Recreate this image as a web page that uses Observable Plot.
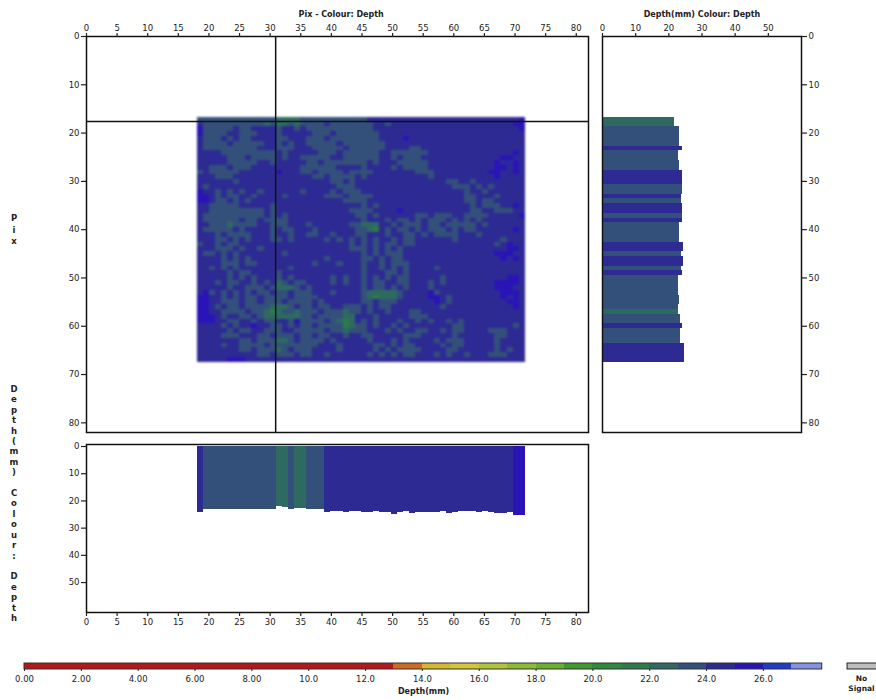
<!DOCTYPE html>
<html><head><meta charset="utf-8">
<script src="https://cdn.jsdelivr.net/npm/d3@7"></script>
<script src="https://cdn.jsdelivr.net/npm/@observablehq/plot@0.6"></script>
<style>
html,body{margin:0;padding:0;background:#fff}
#page{position:relative;width:876px;height:700px;overflow:hidden;font-family:"DejaVu Sans",sans-serif;color:#222}
#page svg{position:absolute;background:transparent;overflow:hidden}
.stack{position:absolute;width:28px;text-align:center;white-space:pre;font-size:8.5px;font-weight:600;color:#222}
.soft{filter:blur(.9px)}
.softer{filter:blur(.5px)}
</style></head><body><div id="page"></div>
<script>
// Depth class per pixel: a 25-26mm, b 24-25mm, c 23-24mm, d 22-23mm, e 21-22mm
const firstCol = 18, firstRow = 17;
const classDepth = {e:21.5, d:22.5, c:23.5, b:24.5, a:25.5};
const gridRows = [
"ccccccccc ccccddddc ccccccccc cbbbbbbbb bbbbbbbbb bbbbbbbba",
"bcccccccc ccdcddcdc cccbccccc ccbbcbbbb bbbbbbbbb bbbbbbbaa",
"acccccbcc bbbbcbbcb ccccccccc ccbbbbbbb bbbbbbbbb bbbbbbbba",
"accccbbcc cbbbcbbbb bcccbcccc cccbbbbbb bbbbbbbbb bbbbbbbbb",
"bcccbcbcc bbbbccbbb cccbccccc cccbbbbab bbbbbbbbb bbbbbbbbb",
"bccccbccc ccbbcbcbb cccccbccc ccccbbbbb bbbbbbbbb bbbbbbbbb",
"bcccccccc cbbbcccbb bcccccbcc ccccbbbbc cbbbbbbbb bbbbbbbbb",
"bbbbccccc ccccbcbbb bbcccbccc cccbbcccc ccbbbbbbb bbbbbbbab",
"bbbbbcccb ccccbcbbc ccccbbccc cccbbcbcc cbbbbbbbb bbbbbaabb",
"bbbbbcccc cbbcbbbbb ccbcccccc cbcbbbccc ccbbbbbbb bbbbabbab",
"bbcccbccc bbbbbbbbc cccccbbbb cbbbbcbcc ccbbbbbbb bbbbaabab",
"cbcccccbb bbbbabbbc cbccccbcc ccbbbbbbb cccbbbbbb bbbaabbab",
"bbbcccbbb bbbbbbbbb bccbccccb cbbbbbbbb bbcbbbbbb bbbbabbbb",
"bbbbbbcbb bbbbbbbbb bbbbccbcb bbbbbbbbb bbbbbccbb cbbbbbbbb",
"bcbbbbbbb bbbbbbbbb bbbbbcccb bbbbbbbbb bbbbbbccc bcbcbbbbb",
"abbcbcbcb bcbbbbbbc bbbbcbccc bbbbbbbbb bbbbbbbbc bbcbbbbbb",
"aabcbccbb cbbbbcbbb bbbcccbcc ccbbbbbbb bbbbbbbbc cbbbcbbbb",
"aabccbcbc bbbbbbbbb bbbbbbccc cbbbbbbbb bbbbbbbbc cbccbbbbb",
"bbcccccbb bbbcbbbbb bbbbbbbbb cbcbbbbbb bbbbbbbbb cbcccbbab",
"bbccccccc ccbcbbbbb bbbbbbbcc ccbbbbabb bbbbbbbbb ccbbcccbb",
"bcccccccc ccbcbcbbb bbbbbbbbc cbcbbbbbb ccbcccbbc cccbbbbba",
"bccccccbc cbccccbbb bbbbbbbbb cbbbcbccb cbcccbcbc bcbbbbbbb",
"bbcccdccc cbbcccbbb cbbbbbbcc dddbbcbcc cbccbcccc cbcbbbbbb",
"bcccccbcb bbbcbccbb bcbbbbbbc cdebcbccb cbcccbcbc cbbbbbbab",
"bbbcbcccc bbbcbbcbb ccbbcbbbc cbbbcbbcc bcbccccbb bcbbbbbbb",
"bbbccbcbc bbbccbcbb bbbcbcbcb cbcbbcbcc bbbbbbcbb bbbbbcbbb",
"cbbcbccbb bbbbbbbbb bbbbbbbcb cbcbccbcc bbbbbbbbb bbbbcbabb",
"bbbcccbcb bcbbbbbbb bbbbbbbcc cbcbcbcbb bbbbbbbbb bbbbbbaab",
"bccbcbcbb bbbbbcbbb bbbbbbbbb cbcbcccbb bbbbbbbbb bbbbaaabb",
"bbbbcbcbc bbbbbbbbb bbbcbbbbb ccbcbccbb bbbbbbbbb bbbbbabab",
"bbbbcccbc cbbbbbbbb bcbbbcbbb cbbcbcccb bbbbbbbbb bbbbbbbbb",
"bbcbcbcbb bbbbbbcbb bbbbbbbbb cbbcbcbcb bbbcbbbbb bbbbbbbbb",
"bbbbbcbcc bbbbcbbbb bbbbbbbbb cbbbccbcb bbbbbbbbb bbbbbbbbb",
"bbbbbcbcb cbbbcbcbb bbbbcbcbb cbcbcbccb bbbbcbbbb bbbbbbaab",
"bbbcbccbb cbcbdcbcc bbbbcbcbb cbccbbccb bbcbcbbbb bbbbaaaab",
"bbbbbcbbc ccbcdddcb cbbbbbbbb cbccbcbcb bbcbbbbbb bbbbaaabb",
"bacbcbcbc bccbccbcc cbbbcbbbb cdddddcbb bbacbbbbb bbbbbaaab",
"aabbcbcbc cbccccbcc ccbbbbbbb cdedddcbb bbaabcbbb bbbbbabab",
"aabbcccbc cbcccbccc cbcbbbbbb ccbcccbbb bbbabcbbb bbbbbbaab",
"aabcbccbc cccdddcbc cbccbbccc bcbccbbbb bbbbcbbbb bbbbbbbab",
"aabbccccb ccdedccdc ccbcccdcc bcbbcbbbc cbbbbbbbb bbbbbbbbb",
"aaabcbbcc bcddddddc cbccccddb bbcbbbbbc ccbbbbbbb bbbbbbbbb",
"aaabbccbb cbccbbcac cccbcdedb cbcbbbcbb cbcbbcbcb bbbbbbbbb",
"bbbbcbcbb abbccbcbc cbccccedc cbcbbcbcb bbbbbbccb bbbbbbbcb",
"bbbbbcbcc bbcccbbcc cccbccdcc cbbbcbcbb ccbbcbccb bbbcccbbb",
"bbbbcccbb bccbcccbc cbccbbcbb ccbbbbbcc cbbbbbcbb bbbbccbbb",
"bbbbbbbcc bcccddcbc cccbcbbbb bcbbbcbcb bbbcbcccb bbbbcbbbb",
"bbbbcbbcc ccbcccccc ccbbbcbbb bbccbcbcc bbbbcbccb bbbbcbbbb",
"bbbbbbbcc bcccdcbcc cbbbbcbbb bbcbcbccc cbbbbccbb bbbbcbcbb",
"bbbbbbbbb bccbcccbc cbbcbbbbb bcbcbcbcc bbbcbcbbc bbbcccbbb",
"bbbbbaaab bbbbbbbbb bbbbbbbbb bbbbbbbbb bbbbbbbbb bbbbbbbbb"
];
// Profile at the crosshair, by row (right panel)
const rowLength = [21.8,21.8,23.2,23.2,23.2,23.2,24,23,23,23.3,23.3,24.2,24.2,24.2,24,24,23.8,23.8,24.2,24.2,24,24,23.2,23.2,23.2,23.2,24.5,24.5,23.8,24.4,24.4,23.8,24,23,23,23,23,23.2,23.2,23,22.8,23.4,23.4,24,23.4,23.4,23.4,24.6,24.6,24.6,24.6];
const rowClassList = "dd cccc b cc cc bbb cc b c bb c b cccc bb c bb c b ccccccc d cc b ccc bbbb".replace(/ /g,"");
// Profile at the crosshair, by column (bottom panel)
const colLength = [24.2,23,23,23,23,23,23,23,23,23,23,23,23,22,22.4,23,22.8,22.8,23,23.2,23.2,24.4,23.9,23.9,24.4,23.9,23.9,24.2,24.4,23.9,24.2,24.4,25,24.4,23.9,24.75,24.4,24.4,24.4,24.1,24,24.75,24.2,24,24,24,24.4,24,24.4,24.75,24.75,24.4,25.5,25.5];
const colClassList = "b cccccccccccc dd c dd ccc bbbbbbbbbbbbbbbbbbbbbbbbbbbbbbb aa".replace(/ /g,"");

const crossX = 30.9, crossY = 17.6;
const mainXTicks = d3.range(0,85,5);
const mainYTicks = d3.range(0,90,10);
const sideXTicks = [0,10,20,30,40,50];
const bottomYTicks = [0,10,20,30,40,50];
const barTicks = d3.range(0,28,2);
const barTickLabels = ["0.00","2.00","4.00","6.00","8.00","10.0","12.0","14.0","16.0","18.0","20.0","22.0","24.0","26.0"];
const binEdges = [0,13,14,15,16,17,18,19,20,21,22,23,24,25,26,27,28.07];
const binColors = ["#b5161b","#cf6a20","#d8b52f","#d4c43a","#b0c43a","#8cbc34","#6ab030","#3f9a30","#2f8a3c","#2e7a4a","#2e6a60","#33507a","#2d2a94","#2a14b8","#1f3cc8","#8492e2"];
const colorOpt = {type:"threshold", domain:binEdges.slice(1,-1), range:binColors};

const page = document.getElementById("page");
const baseStyle = {fontFamily:"'DejaVu Sans',sans-serif", fontSize:"8.5px", color:"#222", background:"transparent"};
function place(chart,left,top){chart.style.left=left+"px";chart.style.top=top+"px";page.appendChild(chart);}
const lineW = 1.5, ink = "#111";
// cell edges slightly tighter than one unit as in the source picture
const cx = i => 18.08 + i*0.9925;
const cy = i => 16.75 + i*0.994;

const cells = [];
gridRows.forEach((r,j)=>{[...r.replace(/ /g,"")].forEach((k,i)=>{
  cells.push({col:firstCol+i,row:firstRow+j,x1:cx(i),x2:cx(i+1),y1:cy(j),y2:cy(j+1),v:classDepth[k]});
});});
const rowBars = rowLength.map((d,j)=>({len:d,y1:cy(j),y2:cy(j+1),v:classDepth[rowClassList[j]]}));
const colBars = colLength.map((d,i)=>({len:d,x1:cx(i),x2:cx(i+1),v:classDepth[colClassList[i]]}));

// Main panel
place(Plot.plot({
  width:596,height:438,style:baseStyle,
  marginLeft:86,marginRight:8,marginTop:36,marginBottom:6,
  x:{domain:[0,82],range:[86,588]},
  y:{domain:[0,82],range:[36,432]},
  color:colorOpt,
  marks:[
    Plot.rect(cells,{x1:"x1",x2:"x2",y1:"y1",y2:"y2",fill:"v",shapeRendering:"crispEdges",className:"soft"}),
    Plot.ruleX([crossX],{stroke:ink,strokeWidth:lineW}),
    Plot.ruleY([crossY],{stroke:ink,strokeWidth:lineW}),
    Plot.frame({stroke:ink,strokeWidth:lineW}),
    Plot.axisX({anchor:"top",ticks:mainXTicks,tickSize:4,tickPadding:2,label:null,strokeWidth:1.2}),
    Plot.axisY({anchor:"left",ticks:mainYTicks,tickSize:5,tickPadding:2,label:null,strokeWidth:1.2}),
    Plot.text(["Pix - Colour: Depth"],{x:41.6,y:0,dy:-22,fontSize:8,fontWeight:600})
  ]
}),0,0);

// Right panel
place(Plot.plot({
  width:280,height:438,style:baseStyle,
  marginLeft:6,marginRight:75,marginTop:36,marginBottom:6,
  x:{domain:[0,60],range:[6,205]},
  y:{domain:[0,82],range:[36,432]},
  color:colorOpt,
  marks:[
    Plot.rect(rowBars,{x1:0,x2:"len",y1:"y1",y2:"y2",fill:"v",shapeRendering:"crispEdges",className:"softer"}),
    Plot.frame({stroke:ink,strokeWidth:lineW}),
    Plot.axisX({anchor:"top",ticks:sideXTicks,tickSize:4,tickPadding:2,label:null,strokeWidth:1.2}),
    Plot.axisY({anchor:"right",ticks:mainYTicks,tickSize:5,tickPadding:2,label:null,strokeWidth:1.2}),
    Plot.text(["Depth(mm) Colour: Depth"],{x:30,y:0,dy:-22,fontSize:8,fontWeight:600})
  ]
}),596,0);

// Bottom panel
place(Plot.plot({
  width:596,height:190,style:baseStyle,
  marginLeft:86,marginRight:8,marginTop:6,marginBottom:16,
  x:{domain:[0,82],range:[86,588]},
  y:{domain:[-0.74,61],range:[6,174]},
  color:colorOpt,
  marks:[
    Plot.rect(colBars,{x1:"x1",x2:"x2",y1:0,y2:"len",fill:"v",shapeRendering:"crispEdges",className:"softer"}),
    Plot.frame({stroke:ink,strokeWidth:lineW}),
    Plot.axisX({anchor:"bottom",ticks:mainXTicks,tickSize:4,tickPadding:2,label:null,strokeWidth:1.2}),
    Plot.axisY({anchor:"left",ticks:bottomYTicks,tickSize:5,tickPadding:2,label:null,strokeWidth:1.2})
  ]
}),0,438);

// Colour bar with the No Signal box
const bins = binColors.map((c,i)=>({a:binEdges[i],b:binEdges[i+1],v:(binEdges[i]+binEdges[i+1])/2}));
place(Plot.plot({
  width:876,height:60,style:baseStyle,
  marginBottom:31,marginTop:23,marginLeft:0,marginRight:0,
  x:{domain:[0,30],range:[24,876.6]},
  y:{domain:[0,1],range:[29,23]},
  color:colorOpt,
  marks:[
    Plot.rect(bins,{x1:"a",x2:"b",y1:0,y2:1,fill:"v",shapeRendering:"crispEdges"}),
    Plot.rect([{a:0,b:28.07}],{x1:"a",x2:"b",y1:0,y2:1,stroke:"#333",strokeWidth:1,fill:"none"}),
    Plot.rect([{a:28.96,b:31}],{x1:"a",x2:"b",y1:0,y2:1,fill:"#bdbdbd",stroke:"#222",strokeWidth:1}),
    Plot.axisX({anchor:"bottom",ticks:barTicks,tickFormat:(d,i)=>barTickLabels[i],tickSize:2,tickPadding:4,label:null,strokeWidth:1}),
    Plot.text(["Depth(mm)"],{x:14.04,y:0,dy:22,fontSize:8,fontWeight:600}),
    Plot.text(["No"],{x:29.45,y:0,dy:9,fontSize:7.5,fontWeight:600}),
    Plot.text(["Signal"],{x:29.45,y:0,dy:19,fontSize:7.5,fontWeight:600})
  ]
}),0,640);

// Stacked vertical axis titles
function stack(text,top,lh){
  const d=document.createElement("div");d.className="stack";
  d.style.left="0px";d.style.top=top+"px";d.style.lineHeight=lh+"px";
  d.textContent=[...text].join("\n");page.appendChild(d);
}
stack("Pix",213,11.5);
stack("Depth(mm) Colour: Depth",384,10.4);
</script></body></html>
